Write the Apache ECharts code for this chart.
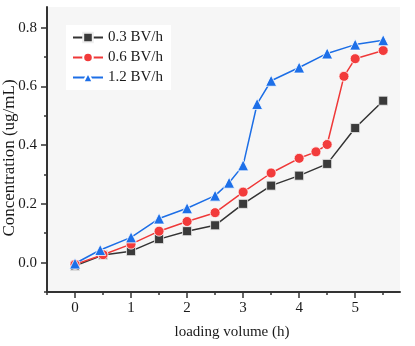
<!DOCTYPE html>
<html>
<head>
<meta charset="utf-8">
<script src="https://cdn.jsdelivr.net/npm/echarts@6/dist/echarts.min.js"></script>
<style>
  html, body { margin: 0; padding: 0; background: #fff; }
  #chart { width: 415px; height: 346px; }
</style>
</head>
<body>
<div id="chart"></div>
<script>
// breakthrough curves at three flow rates
const seriesNames = ["0.3 BV/h", "0.6 BV/h", "1.2 BV/h"];

const x03 = [0, 0.5, 1, 1.5, 2, 2.5, 3, 3.5, 4, 4.5, 5, 5.5];
const y03 = [-0.011, 0.026, 0.039, 0.080, 0.107, 0.127, 0.200, 0.262, 0.296, 0.336, 0.458, 0.551];

const x06 = [0, 0.5, 1, 1.5, 2, 2.5, 3, 3.5, 4, 4.3, 4.5, 4.8, 5, 5.5];
const y06 = [-0.006, 0.027, 0.063, 0.107, 0.140, 0.170, 0.240, 0.305, 0.355, 0.377, 0.402, 0.634, 0.694, 0.722];

const x12 = [0, 0.45, 1, 1.5, 2, 2.5, 2.75, 3, 3.25, 3.5, 4, 4.5, 5, 5.5];
const y12 = [-0.003, 0.043, 0.086, 0.150, 0.185, 0.228, 0.272, 0.331, 0.540, 0.619, 0.664, 0.712, 0.742, 0.757];

const xMajorTicks = [0, 1, 2, 3, 4, 5];
const xMinorTicks = [-0.5, 0.5, 1.5, 2.5, 3.5, 4.5, 5.5];
const yMajorTicks = [0, 0.2, 0.4, 0.6, 0.8];
const yMinorTicks = [-0.1, 0.1, 0.3, 0.5, 0.7];

const FONT = "'Liberation Serif', 'Times New Roman', serif";
const AXIS = "#333";
const TEXT = "#1a1a1a";

function pairs(xs, ys) {
  return xs.map((x, i) => [x, ys[i]]);
}

const chart = echarts.init(document.getElementById("chart"), null, { renderer: "canvas" });

const xBase = { type: "value", position: "bottom", min: -0.5, max: 5.8, gridIndex: 0, splitLine: { show: false } };
const yBase = { type: "value", position: "left", min: -0.1, max: 0.87, gridIndex: 0, splitLine: { show: false } };

chart.setOption({
  animation: false,
  grid: {
    left: 47, right: 15, top: 7, bottom: 54,
    show: true, backgroundColor: "#f6f6f6", borderWidth: 0
  },
  legend: {
    orient: "vertical",
    left: 66, top: 25,
    padding: [5, 8, 5, 6],
    backgroundColor: "#ffffff",
    itemWidth: 30, itemHeight: 12, itemGap: 5,
    textStyle: { fontFamily: FONT, fontSize: 15, color: TEXT },
    data: seriesNames
  },
  graphic: [{
    type: "text",
    x: 10, y: 158, rotation: Math.PI / 2,
    style: {
      text: "Concentration (ug/mL)",
      font: "17px " + FONT, fill: TEXT,
      align: "center", verticalAlign: "middle"
    }
  }],
  xAxis: [
    Object.assign({}, xBase, {
      name: "loading volume (h)",
      nameLocation: "middle", nameGap: 33,
      nameTextStyle: { fontFamily: FONT, fontSize: 15, color: TEXT, padding: [0, 0, 0, 17] },
      axisLine: { show: true, onZero: false, lineStyle: { color: AXIS, width: 2 } },
      axisTick: { show: true, length: 6, customValues: xMajorTicks, lineStyle: { color: AXIS, width: 1.5 } },
      axisLabel: { customValues: xMajorTicks, margin: 9, fontFamily: FONT, fontSize: 15, color: TEXT }
    }),
    Object.assign({}, xBase, {
      axisLine: { show: false, onZero: false },
      axisTick: { show: true, length: 3, customValues: xMinorTicks, lineStyle: { color: AXIS, width: 1.5 } },
      axisLabel: { show: false }
    })
  ],
  yAxis: [
    Object.assign({}, yBase, {
      axisLine: { show: true, onZero: false, lineStyle: { color: AXIS, width: 2 } },
      axisTick: { show: true, length: 6, customValues: yMajorTicks, lineStyle: { color: AXIS, width: 1.5 } },
      axisLabel: {
        customValues: yMajorTicks, margin: 10,
        fontFamily: FONT, fontSize: 15, color: TEXT,
        formatter: v => v.toFixed(1)
      }
    }),
    Object.assign({}, yBase, {
      axisLine: { show: false, onZero: false },
      axisTick: { show: true, length: 3, customValues: yMinorTicks, lineStyle: { color: AXIS, width: 1.5 } },
      axisLabel: { show: false }
    })
  ],
  series: [
    {
      name: seriesNames[0], type: "line", data: pairs(x03, y03),
      symbol: "rect", symbolSize: 9,
      lineStyle: { color: "#333", width: 1.5 },
      itemStyle: { color: "#3a3a3a", borderColor: "#eee", borderWidth: 0.8 }
    },
    {
      name: seriesNames[1], type: "line", data: pairs(x06, y06),
      symbol: "circle", symbolSize: 10,
      lineStyle: { color: "#ef3838", width: 1.5 },
      itemStyle: { color: "#f23b3b", borderColor: "#fff", borderWidth: 0.8 }
    },
    {
      name: seriesNames[2], type: "line", data: pairs(x12, y12),
      symbol: "triangle", symbolSize: 11,
      lineStyle: { color: "#1c6ee6", width: 1.5 },
      itemStyle: { color: "#1d6fe8", borderColor: "#fff", borderWidth: 0.8 }
    }
  ]
});
</script>
</body>
</html>
